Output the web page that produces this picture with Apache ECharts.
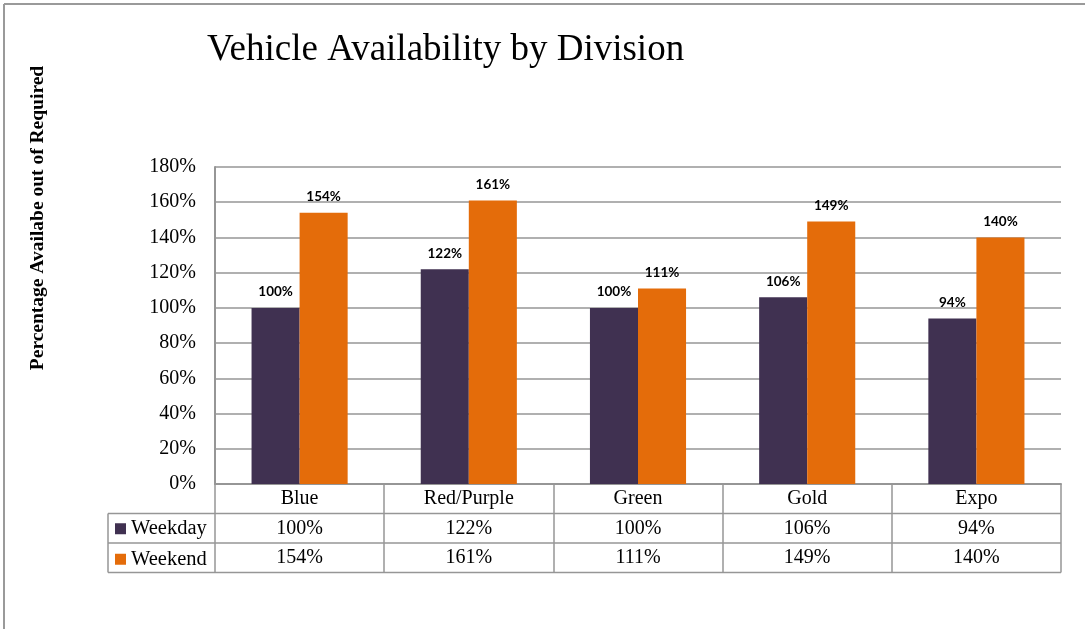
<!DOCTYPE html>
<html>
<head>
<meta charset="utf-8">
<script src="https://cdn.jsdelivr.net/npm/echarts@6/dist/echarts.min.js"></script>
<style>
html,body{margin:0;padding:0;background:#fff;}
#chart{width:1085px;height:629px;}
</style>
</head>
<body>
<div id="chart"></div>
<script>
const categories = ['Blue', 'Red/Purple', 'Green', 'Gold', 'Expo'];
const weekday = [100, 122, 100, 106, 94];
const weekend = [154, 161, 111, 149, 140];
const seriesNames = ['Weekday', 'Weekend'];
const yTicks = { min: 0, max: 180, interval: 20 };
const titleText = 'Vehicle Availability by Division';
const yTitle = 'Percentage Availabe out of Required';

const W = 1085, H = 629;
const GL = 215, GR = 1061, GT = 167, GB = 484;
const ROW = 29.5;
const TABLE_L = 108;
const LINE = '#969696';
const SERIF = '"Liberation Serif", "DejaVu Serif", serif';
const COLORS = ['#403151', '#E46C0A'];

const chart = echarts.init(document.getElementById('chart'), null, {renderer: 'canvas'});

const tableLines = [];
for (let r = 1; r <= 3; r++) {
  tableLines.push({type: 'line', shape: {x1: TABLE_L, y1: GB + ROW * r, x2: GR, y2: GB + ROW * r},
    style: {stroke: LINE, lineWidth: 1.5}, silent: true});
}
tableLines.push({type: 'line', shape: {x1: TABLE_L, y1: GB + ROW, x2: TABLE_L, y2: GB + ROW * 3},
  style: {stroke: LINE, lineWidth: 1.5}, silent: true});

const option = {
  backgroundColor: '#fff',
  animation: false,
  title: {
    text: titleText,
    left: 207,
    top: 32,
    padding: 0,
    textStyle: {fontFamily: SERIF, fontSize: 37, fontWeight: 'normal', color: '#000'}
  },
  legend: {
    data: seriesNames,
    orient: 'vertical',
    left: 115,
    top: GB + ROW + ROW / 2 - 10,
    padding: 0,
    itemWidth: 11,
    itemHeight: 11,
    itemGap: ROW - 20,
    icon: 'rect',
    textStyle: {fontFamily: SERIF, fontSize: 20.5, color: '#000', lineHeight: 20}
  },
  grid: {left: GL, right: W - GR, top: GT, bottom: H - GB, containLabel: false, outerBoundsMode: 'none'},
  xAxis: {
    type: 'category',
    data: categories,
    axisLine: {show: true, lineStyle: {color: LINE, width: 2}},
    axisTick: {show: true, interval: 0, length: ROW * 3, lineStyle: {color: LINE, width: 1.5}},
    axisLabel: {
      interval: 0,
      margin: 0,
      formatter: function (v, i) {
        return '{a|' + v + '}\n{a|' + weekday[i] + '%}\n{a|' + weekend[i] + '%}';
      },
      rich: {a: {fontFamily: SERIF, fontSize: 20, color: '#000', lineHeight: ROW, align: 'center'}}
    }
  },
  yAxis: {
    type: 'value',
    min: yTicks.min,
    max: yTicks.max,
    interval: yTicks.interval,
    axisLine: {show: true, lineStyle: {color: LINE, width: 2}},
    axisTick: {show: false},
    splitLine: {show: true, lineStyle: {color: LINE, width: 1.5}},
    axisLabel: {
      formatter: '{value}%',
      margin: 19,
      fontFamily: SERIF,
      fontSize: 20,
      color: '#000'
    }
  },
  series: [
    {
      name: seriesNames[0],
      type: 'bar',
      data: weekday,
      barWidth: '28.4%',
      barGap: '0%',
      itemStyle: {color: COLORS[0]},
      label: {show: true, position: 'top', distance: 9, formatter: '{c}%',
        fontFamily: 'Lato, "Liberation Sans", sans-serif', fontWeight: 'bold', fontSize: 13.5, color: '#000'}
    },
    {
      name: seriesNames[1],
      type: 'bar',
      data: weekend,
      barWidth: '28.4%',
      barGap: '0%',
      itemStyle: {color: COLORS[1]},
      label: {show: true, position: 'top', distance: 9, formatter: '{c}%',
        fontFamily: 'Lato, "Liberation Sans", sans-serif', fontWeight: 'bold', fontSize: 13.5, color: '#000'}
    }
  ],
  graphic: [
    {type: 'line', shape: {x1: 4, y1: 4, x2: W, y2: 4}, style: {stroke: '#9a9a9a', lineWidth: 2}, silent: true},
    {type: 'line', shape: {x1: 4, y1: 4, x2: 4, y2: H}, style: {stroke: '#9a9a9a', lineWidth: 2}, silent: true},
    {
      type: 'text',
      x: 38, y: 218,
      rotation: Math.PI / 2,
      style: {text: yTitle, fontFamily: SERIF, fontSize: 19.5, fontWeight: 'bold', fill: '#000',
        textAlign: 'center', textVerticalAlign: 'middle'},
      silent: true
    }
  ].concat(tableLines)
};
chart.setOption(option);
</script>
</body>
</html>
